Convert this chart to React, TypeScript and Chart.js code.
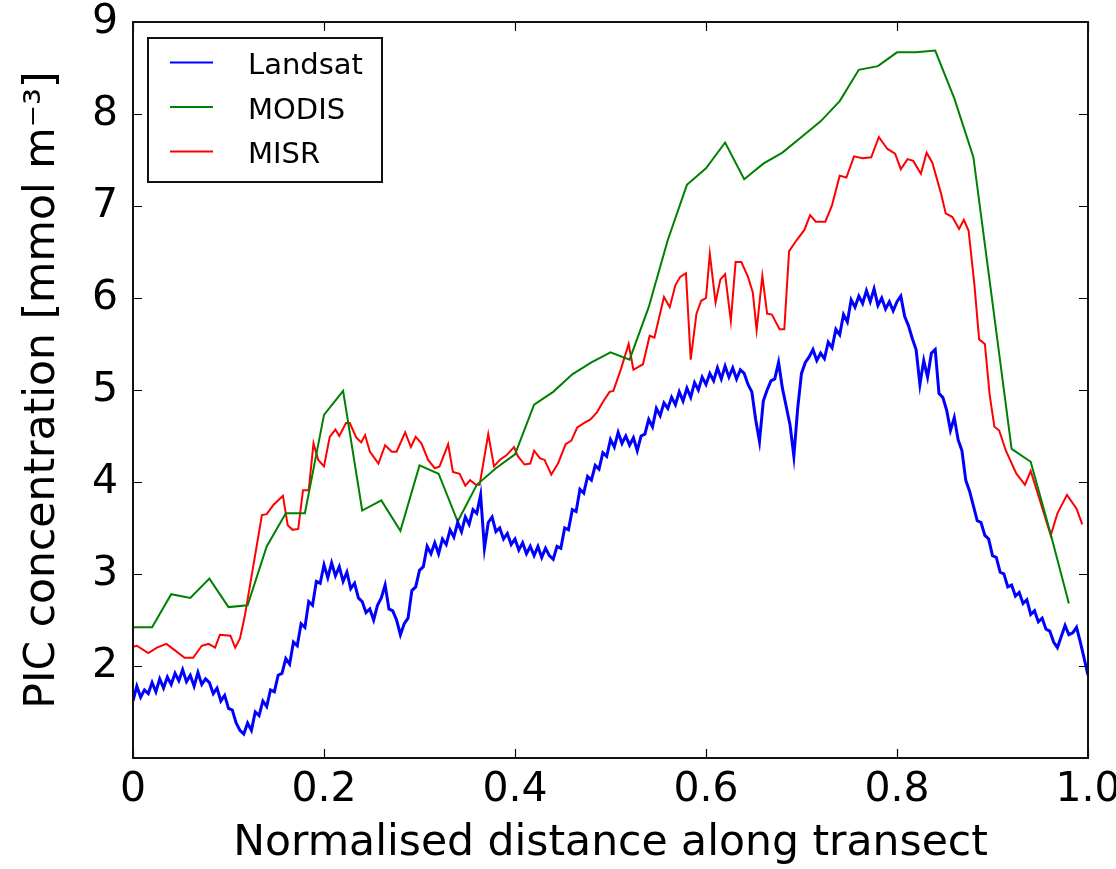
import React, { useEffect, useRef } from 'react';
import { Chart, registerables } from 'chart.js';

Chart.register(...registerables);

const FONT = "'DejaVu Sans', 'Verdana', sans-serif";

const X_TICKS = [0, 0.2, 0.4, 0.6, 0.8, 1.0];
const Y_TICKS = [1, 2, 3, 4, 5, 6, 7, 8, 9];

const SERIES_NAMES = ['Landsat', 'MODIS', 'MISR'];
const SERIES_COLORS = ['#0000ff', '#008000', '#ff0000'];

// Landsat: densely sampled along the transect
const LANDSAT_STEP = 0.004;
const LANDSAT_VALUES = [
  1.62, 1.78, 1.66, 1.74, 1.70, 1.82, 1.72, 1.86, 1.76, 1.88,
  1.80, 1.92, 1.84, 1.96, 1.83, 1.90, 1.78, 1.93, 1.80, 1.86,
  1.82, 1.70, 1.76, 1.62, 1.68, 1.54, 1.52, 1.38, 1.30, 1.26,
  1.38, 1.30, 1.50, 1.46, 1.62, 1.56, 1.74, 1.72, 1.90, 1.92,
  2.08, 2.02, 2.26, 2.22, 2.46, 2.42, 2.70, 2.66, 2.92, 2.90,
  3.10, 2.96, 3.12, 2.98, 3.08, 2.92, 3.02, 2.84, 2.90, 2.74,
  2.70, 2.58, 2.62, 2.50, 2.66, 2.74, 2.88, 2.62, 2.60, 2.50,
  2.34, 2.46, 2.52, 2.82, 2.86, 3.04, 3.08, 3.30, 3.22, 3.34,
  3.22, 3.38, 3.32, 3.48, 3.40, 3.56, 3.46, 3.62, 3.54, 3.70,
  3.66, 3.86, 3.28, 3.56, 3.62, 3.46, 3.50, 3.38, 3.44, 3.32,
  3.38, 3.26, 3.34, 3.22, 3.30, 3.20, 3.30, 3.18, 3.28, 3.20,
  3.16, 3.30, 3.28, 3.50, 3.48, 3.70, 3.68, 3.92, 3.88, 4.06,
  4.02, 4.18, 4.14, 4.32, 4.28, 4.46, 4.38, 4.54, 4.42, 4.50,
  4.40, 4.48, 4.34, 4.50, 4.52, 4.68, 4.60, 4.80, 4.72, 4.86,
  4.80, 4.92, 4.84, 4.98, 4.88, 5.02, 4.92, 5.08, 5.00, 5.14,
  5.06, 5.18, 5.10, 5.24, 5.12, 5.26, 5.14, 5.24, 5.12, 5.22,
  5.18, 5.06, 4.98, 4.68, 4.44, 4.88, 5.00, 5.10, 5.12, 5.30,
  5.02, 4.82, 4.62, 4.28, 4.80, 5.18, 5.30, 5.36, 5.44, 5.32,
  5.40, 5.34, 5.52, 5.46, 5.66, 5.60, 5.82, 5.74, 5.98, 5.90,
  6.02, 5.94, 6.08, 5.96, 6.10, 5.92, 6.00, 5.88, 5.96, 5.86,
  5.96, 6.02, 5.80, 5.70, 5.56, 5.44, 5.06, 5.32, 5.14, 5.40,
  5.44, 4.96, 4.92, 4.78, 4.56, 4.70, 4.46, 4.34, 4.02, 3.90,
  3.74, 3.58, 3.56, 3.42, 3.38, 3.20, 3.18, 3.02, 3.00, 2.86,
  2.88, 2.76, 2.80, 2.68, 2.72, 2.56, 2.60, 2.48, 2.52, 2.40,
  2.38, 2.26, 2.20, 2.32, 2.44, 2.34, 2.36, 2.42, 2.26, 2.08,
  1.90,
];

const MODIS_X = [
  0.00, 0.02, 0.04, 0.06, 0.08, 0.10, 0.12, 0.14, 0.16, 0.18,
  0.20, 0.22, 0.24, 0.26, 0.28, 0.30, 0.32, 0.34, 0.36, 0.38,
  0.40, 0.42, 0.44, 0.46, 0.48, 0.50, 0.52, 0.54, 0.56, 0.58,
  0.60, 0.62, 0.64, 0.66, 0.68, 0.70, 0.72, 0.74, 0.76, 0.78,
  0.80, 0.82, 0.84, 0.86, 0.88, 0.90, 0.92, 0.94, 0.96, 0.98,
];
const MODIS_Y = [
  2.42, 2.42, 2.78, 2.74, 2.95, 2.64, 2.66, 3.30, 3.66, 3.66,
  4.73, 4.99, 3.69, 3.80, 3.47, 4.18, 4.09, 3.57, 3.97, 4.15,
  4.30, 4.84, 4.98, 5.17, 5.30, 5.41, 5.33, 5.90, 6.63, 7.23,
  7.41, 7.69, 7.29, 7.46, 7.58, 7.75, 7.92, 8.14, 8.48, 8.52,
  8.67, 8.67, 8.69, 8.17, 7.53, 5.95, 4.36, 4.22, 3.47, 2.68,
];

const MISR_X = [
  0.000, 0.004, 0.016, 0.025, 0.035, 0.044, 0.054, 0.063, 0.072, 0.079,
  0.086, 0.091, 0.102, 0.107, 0.112, 0.117, 0.135, 0.140, 0.147, 0.157,
  0.162, 0.167, 0.173, 0.178, 0.184, 0.189, 0.194, 0.200, 0.206, 0.212,
  0.216, 0.223, 0.227, 0.234, 0.239, 0.243, 0.248, 0.257, 0.264, 0.271,
  0.276, 0.285, 0.291, 0.296, 0.302, 0.309, 0.316, 0.321, 0.330, 0.335,
  0.342, 0.348, 0.353, 0.359, 0.363, 0.372, 0.378, 0.384, 0.391, 0.399,
  0.403, 0.410, 0.416, 0.420, 0.426, 0.431, 0.438, 0.445, 0.453, 0.459,
  0.465, 0.472, 0.479, 0.486, 0.492, 0.499, 0.503, 0.511, 0.519, 0.524,
  0.534, 0.541, 0.546, 0.556, 0.562, 0.568, 0.573, 0.579, 0.584, 0.590,
  0.595, 0.600, 0.604, 0.610, 0.615, 0.620, 0.626, 0.631, 0.637, 0.644,
  0.649, 0.653, 0.659, 0.664, 0.669, 0.677, 0.682, 0.687, 0.695, 0.703,
  0.709, 0.715, 0.725, 0.732, 0.740, 0.747, 0.755, 0.764, 0.773, 0.781,
  0.790, 0.798, 0.804, 0.811, 0.817, 0.825, 0.831, 0.837, 0.846, 0.851,
  0.858, 0.865, 0.870, 0.875, 0.881, 0.886, 0.892, 0.897, 0.902, 0.907,
  0.914, 0.925, 0.934, 0.940, 0.949, 0.961, 0.968, 0.978, 0.988, 0.994,
];
const MISR_Y = [
  2.21, 2.22, 2.14, 2.20, 2.24, 2.17, 2.09, 2.09, 2.22, 2.24,
  2.20, 2.34, 2.33, 2.20, 2.30, 2.54, 3.64, 3.65, 3.75, 3.85,
  3.53, 3.48, 3.49, 3.91, 3.91, 4.42, 4.24, 4.17, 4.49, 4.57,
  4.50, 4.64, 4.64, 4.48, 4.43, 4.51, 4.33, 4.20, 4.40, 4.33,
  4.33, 4.54, 4.38, 4.49, 4.42, 4.24, 4.15, 4.17, 4.41, 4.11,
  4.09, 3.96, 4.02, 3.97, 3.97, 4.52, 4.17, 4.24, 4.29, 4.38,
  4.28, 4.19, 4.20, 4.34, 4.26, 4.24, 4.08, 4.20, 4.41, 4.45,
  4.59, 4.64, 4.68, 4.76, 4.87, 4.98, 4.99, 5.23, 5.50, 5.22,
  5.28, 5.59, 5.57, 6.01, 5.90, 6.14, 6.23, 6.27, 5.33, 5.83,
  5.97, 6.00, 6.48, 5.95, 6.20, 6.26, 5.75, 6.39, 6.39, 6.23,
  6.06, 5.65, 6.24, 5.83, 5.82, 5.66, 5.66, 6.51, 6.63, 6.74,
  6.90, 6.83, 6.83, 7.01, 7.33, 7.31, 7.54, 7.52, 7.53, 7.75,
  7.62, 7.57, 7.40, 7.51, 7.49, 7.35, 7.58, 7.47, 7.14, 6.92,
  6.88, 6.75, 6.85, 6.73, 6.15, 5.55, 5.50, 4.95, 4.60, 4.56,
  4.34, 4.09, 3.97, 4.12, 3.82, 3.42, 3.66, 3.86, 3.71, 3.54,
];

const X_TITLE = 'Normalised distance along transect';
const Y_TITLE = 'PIC concentration [mmol m\u207B\u00B3]';

const W = 1116;
const H = 869;

const zeroPadding = (scale: any) => {
  scale.paddingTop = 0;
  scale.paddingBottom = 0;
  scale.paddingLeft = 0;
  scale.paddingRight = 0;
};

const framePlugin = {
  id: 'frameAndTicks',
  afterDatasetsDraw(chart: any) {
    const { ctx, chartArea } = chart;
    const { left, right, top, bottom } = chartArea;
    const xs = chart.scales.x;
    const ys = chart.scales.y;
    const TL = 9;
    ctx.save();
    ctx.strokeStyle = '#000';
    ctx.lineWidth = 1.2;
    ctx.beginPath();
    X_TICKS.forEach((v) => {
      const px = Math.round(xs.getPixelForValue(v)) + 0.5;
      ctx.moveTo(px, bottom);
      ctx.lineTo(px, bottom - TL);
      ctx.moveTo(px, top);
      ctx.lineTo(px, top + TL);
    });
    Y_TICKS.forEach((v) => {
      const py = Math.round(ys.getPixelForValue(v)) + 0.5;
      ctx.moveTo(left, py);
      ctx.lineTo(left + TL, py);
      ctx.moveTo(right, py);
      ctx.lineTo(right - TL, py);
    });
    ctx.stroke();
    ctx.lineWidth = 2;
    ctx.strokeStyle = '#111';
    ctx.strokeRect(left, top, right - left, bottom - top);
    ctx.restore();
  },
  afterDraw(chart: any) {
    const { ctx } = chart;
    const bx = 148, by = 38, bw = 234, bh = 144;
    ctx.save();
    ctx.fillStyle = '#fff';
    ctx.fillRect(bx, by, bw, bh);
    ctx.strokeStyle = '#111';
    ctx.lineWidth = 2;
    ctx.strokeRect(bx, by, bw, bh);
    ctx.font = `29px ${FONT}`;
    ctx.textBaseline = 'alphabetic';
    ctx.textAlign = 'left';
    chart.data.datasets.forEach((ds: any, i: number) => {
      const ly = 62.5 + i * 44.5;
      ctx.strokeStyle = ds.borderColor;
      ctx.lineWidth = 2;
      ctx.beginPath();
      ctx.moveTo(170, ly);
      ctx.lineTo(213, ly);
      ctx.stroke();
      ctx.fillStyle = '#000';
      ctx.fillText(ds.label, 248, ly + 11.5);
    });
    ctx.restore();
  },
};

export default function App() {
  const ref = useRef<HTMLCanvasElement | null>(null);

  useEffect(() => {
    if (!ref.current) return;
    const landsat = LANDSAT_VALUES.map((y, i) => ({ x: i * LANDSAT_STEP, y }));
    const modis = MODIS_X.map((x, i) => ({ x, y: MODIS_Y[i] }));
    const misr = MISR_X.map((x, i) => ({ x, y: MISR_Y[i] }));
    const seriesData = [landsat, modis, misr];
    const widths = [3, 2, 2];

    const chart = new Chart(ref.current, {
      type: 'line',
      data: {
        datasets: SERIES_NAMES.map((label, i) => ({
          label,
          data: seriesData[i],
          borderColor: SERIES_COLORS[i],
          backgroundColor: SERIES_COLORS[i],
          borderWidth: widths[i],
          pointRadius: 0,
          tension: 0,
          fill: false,
          borderJoinStyle: 'miter',
        })),
      },
      options: {
        animation: false,
        responsive: false,
        devicePixelRatio: 1,
        layout: { padding: { top: 22, right: 28, left: 0, bottom: 0 } },
        plugins: {
          legend: { display: false },
          tooltip: { enabled: false },
        },
        scales: {
          x: {
            type: 'linear',
            min: 0,
            max: 1,
            grid: { display: false, drawTicks: false },
            border: { display: false },
            afterBuildTicks: (scale: any) => {
              scale.ticks = X_TICKS.map((v) => ({ value: v }));
            },
            afterFit: (scale: any) => {
              scale.height = 111;
              zeroPadding(scale);
            },
            ticks: {
              autoSkip: false,
              maxRotation: 0,
              padding: 8,
              color: '#000',
              font: { family: FONT, size: 41 },
              callback: (v: any) => (Number(v) === 0 ? '0' : Number(v).toFixed(1)),
            },
            title: {
              display: true,
              text: X_TITLE,
              color: '#000',
              font: { family: FONT, size: 42.5 },
              padding: { top: 0, bottom: 0 },
            },
          },
          y: {
            type: 'linear',
            min: 1,
            max: 9,
            grid: { display: false, drawTicks: false },
            border: { display: false },
            afterBuildTicks: (scale: any) => {
              scale.ticks = Y_TICKS.map((v) => ({ value: v }));
            },
            afterFit: (scale: any) => {
              scale.width = 133;
              zeroPadding(scale);
            },
            ticks: {
              autoSkip: false,
              padding: 15,
              color: '#000',
              font: { family: FONT, size: 41 },
              callback: (v: any) => (Number(v) === 1 ? '' : String(v)),
            },
            title: {
              display: true,
              text: Y_TITLE,
              color: '#000',
              font: { family: FONT, size: 42.5 },
              padding: { top: 17, bottom: 0 },
            },
          },
        },
      },
      plugins: [framePlugin],
    });
    return () => chart.destroy();
  }, []);

  return (
    <div style={{ position: 'fixed', left: 0, top: 0, width: W, height: H, background: '#fff' }}>
      <canvas ref={ref} width={W} height={H} style={{ display: 'block' }} />
    </div>
  );
}
